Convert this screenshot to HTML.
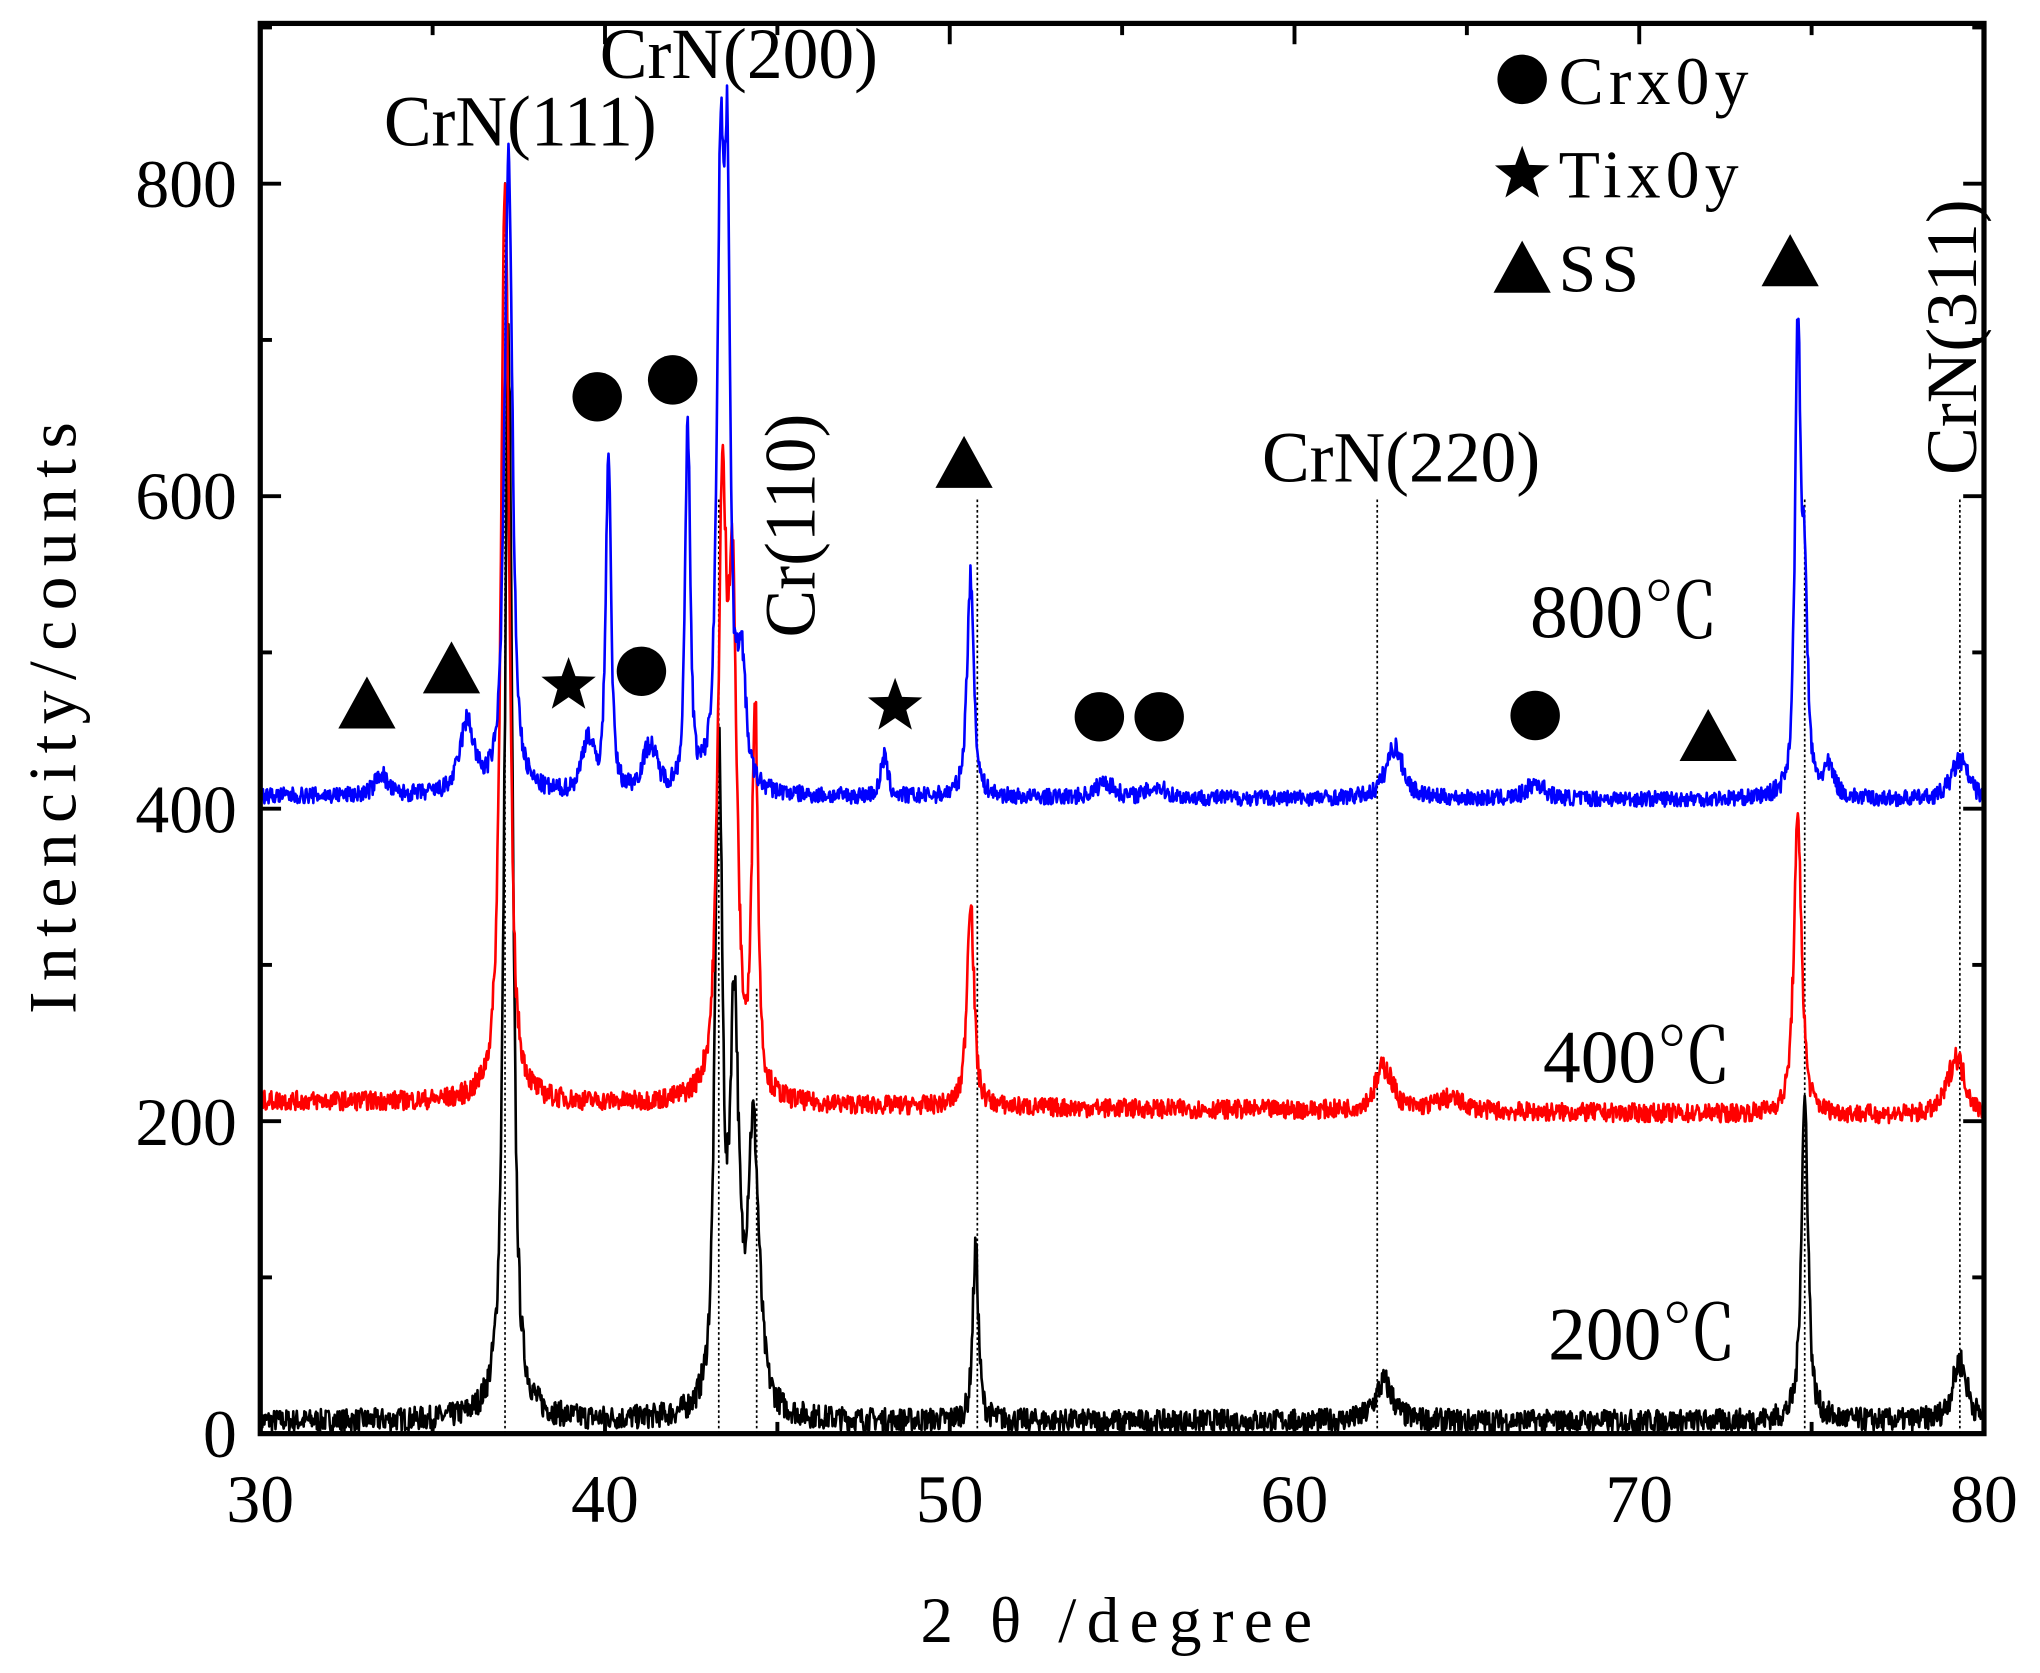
<!DOCTYPE html>
<html><head><meta charset="utf-8"><style>
html,body{margin:0;padding:0;background:#fff}
svg{display:block}
text{font-family:"Liberation Serif","Noto Serif CJK SC",serif;fill:#000}
</style></head><body>
<svg id="s" width="2040" height="1673" viewBox="0 0 1568 1286" xmlns="http://www.w3.org/2000/svg">
<rect x="0" y="0" width="1568" height="1286" fill="#fff"/>
<g id="dots" stroke="#000" stroke-width="1.3" stroke-dasharray="2,2"></g>
<g id="series" fill="none" stroke-width="2" stroke-linejoin="round"></g>
<rect x="200" y="18" width="1325" height="1084" fill="none" stroke="#000" stroke-width="4"/>
<g id="ticks" stroke="#000" stroke-width="3"></g>
<g font-size="52" text-anchor="end">
<text x="182" y="1120">0</text><text x="182" y="880">200</text><text x="182" y="640">400</text><text x="182" y="399">600</text><text x="182" y="159">800</text>
</g>
<g font-size="52" text-anchor="middle">
<text x="200" y="1170">30</text><text x="465" y="1170">40</text><text x="730" y="1170">50</text><text x="995" y="1170">60</text><text x="1260" y="1170">70</text><text x="1525" y="1170">80</text>
</g>
<text x="862" y="1262" font-size="50" text-anchor="middle" letter-spacing="8">2 θ /degree</text>
<text transform="translate(58,548) rotate(-90)" font-size="52" text-anchor="middle" letter-spacing="8">Intencity/counts</text>
<g font-size="55">
<text x="295" y="112">CrN(111)</text>
<text x="461" y="60">CrN(200)</text>
<text x="970" y="370">CrN(220)</text>
<text transform="translate(626,490) rotate(-90)">Cr(110)</text>
<text transform="translate(1519,365) rotate(-90)">CrN(311)</text>
</g>
<g font-size="52" letter-spacing="4">
<text x="1198" y="80">Crx0y</text>
<text x="1198" y="152">Tix0y</text>
<text x="1198" y="224">SS</text>
</g>
<g font-size="58">
<text x="1176" y="490">800℃</text>
<text x="1186" y="832">400℃</text>
<text x="1190" y="1045">200℃</text>
</g>
<g id="marks" fill="#000"></g>
</svg>
<script>
var NS="http://www.w3.org/2000/svg";
function X(v){return 200+(v-30)*26.5}
function Y(v){return 1102-v*1.201}
function el(p,t,a){var e=document.createElementNS(NS,t);for(var k in a)e.setAttribute(k,a[k]);document.getElementById(p).appendChild(e);return e}
for(var i=0;i<=10;i++){var x=X(30+i*5);var L=i%2==0?16:9;el('ticks','line',{x1:x,y1:1102,x2:x,y2:1102-L});el('ticks','line',{x1:x,y1:18,x2:x,y2:18+L});}
for(var i=0;i<=9;i++){var y=Y(i*100);if(y<20)continue;var L=i%2==0?16:9;el('ticks','line',{x1:200,y1:y,x2:200+L,y2:y});el('ticks','line',{x1:1525,y1:y,x2:1525-L,y2:y});}
[[37.1,140],[43.3,382],[44.4,760],[50.8,382],[62.4,382],[74.8,382],[79.3,382]].forEach(function(d){el('dots','line',{x1:X(d[0]),y1:1102,x2:X(d[0]),y2:d[1]});});
var seed=7;function rnd(){seed=(seed*16807)%2147483647;return seed/2147483647}
function series(base,slope,peaks,noise,col){
 var d="";for(var t=30;t<=80.001;t+=0.02){var v=base+slope*(t-30);
  peaks.forEach(function(p){var w=p[2]||0.15;var dx=(t-p[0])/w;v+=p[1]*(0.75/(1+dx*dx)+0.25*Math.exp(-dx*dx*0.7));});
  v+=(rnd()-0.5)*noise*(1+Math.sqrt(Math.max(0,v-base))/15);
  d+=(d?"L":"M")+X(t).toFixed(1)+","+Y(v).toFixed(1);}
 el('series','path',{d:d,stroke:col});}
series(8,0,[[37.2,690,0.14],[43.3,420,0.13],[43.75,250,0.15],[44.3,180,0.2],[50.75,110,0.1],[62.6,25,0.3],[74.8,205,0.12],[79.3,38,0.25]],14,"#000");
series(213,-0.2,[[37.1,600,0.14],[43.4,360,0.15],[43.7,300,0.15],[44.35,250,0.1],[50.6,135,0.12],[62.6,28,0.3],[64.5,8,0.5],[74.6,185,0.14],[79.2,38,0.3]],12,"#f00");
series(408,-0.05,[[33.5,14,0.2],[36.0,45,0.25],[37.2,405,0.14],[39.5,35,0.2],[40.1,220,0.09],[41.3,30,0.25],[42.4,230,0.09],[43.35,380,0.12],[43.55,340,0.1],[43.95,80,0.15],[48.1,25,0.12],[50.6,140,0.12],[54.5,10,0.3],[56,7,0.3],[62.9,33,0.3],[67,10,0.3],[74.6,290,0.1],[74.8,120,0.1],[75.5,18,0.2],[79.3,25,0.3]],10,"#00f");
function tri(x,y){el('marks','polygon',{points:(x-22)+","+(y+20)+" "+(x+22)+","+(y+20)+" "+x+","+(y-20)});}
function cir(x,y){el('marks','circle',{cx:x,cy:y,r:19});}
function star(x,y){var r=22,ri=9,p=[];for(var i=0;i<10;i++){var a=-Math.PI/2+i*Math.PI/5,rr=i%2?ri:r;p.push((x+rr*Math.cos(a)).toFixed(1)+","+(y+rr*Math.sin(a)).toFixed(1));}el('marks','polygon',{points:p.join(" ")});}
[[282,540],[347,513],[741,355],[1376,200],[1313,565],[1170,205]].forEach(function(a){tri(a[0],a[1])});
[[459,305],[517,292],[493,516],[845,551],[891,551],[1180,550],[1170,61]].forEach(function(a){cir(a[0],a[1])});
[[437,527],[688,543],[1170,134]].forEach(function(a){star(a[0],a[1])});
</script>
</body></html>
